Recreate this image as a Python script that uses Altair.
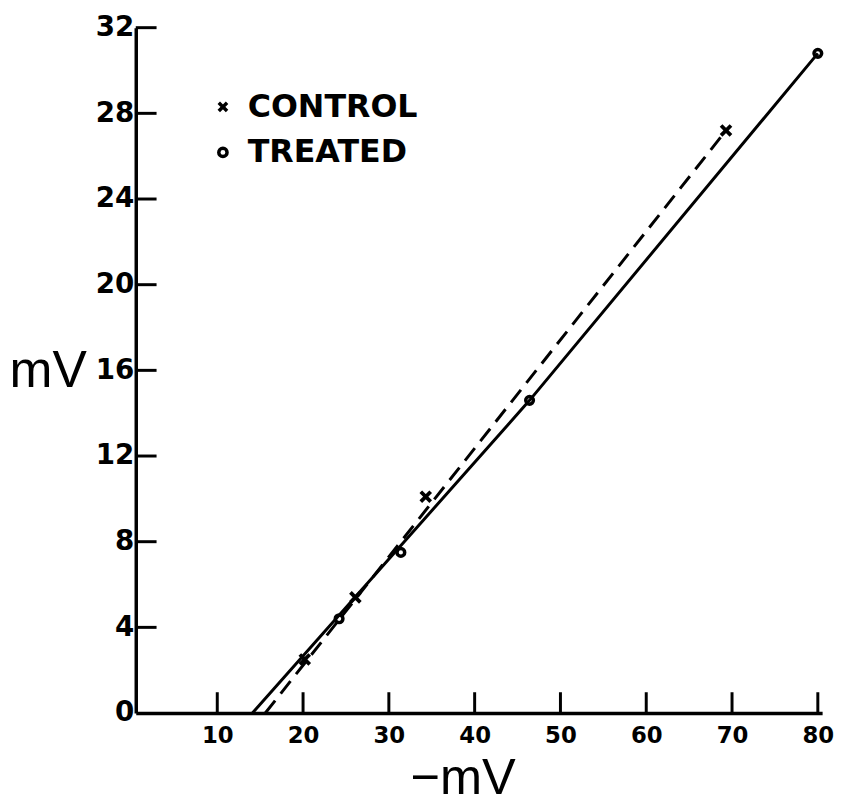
import altair as alt
import pandas as pd

# ---- data ----
control_x = [20.2, 26.1, 34.3, 69.3]
control_y = [2.5, 5.4, 10.1, 27.2]
treated_x = [24.2, 31.4, 46.4, 80.0]
treated_y = [4.4, 7.5, 14.6, 30.8]

control_line_x = [15.6, 69.3]
control_line_y = [0.0, 27.2]
treated_line_x = [14.1, 46.4, 80.0]
treated_line_y = [0.0, 14.6, 30.8]

x_ticks = [10, 20, 30, 40, 50, 60, 70, 80]
y_ticks = [0, 4, 8, 12, 16, 20, 24, 28, 32]
groups = ["CONTROL", "TREATED"]

pts = pd.DataFrame({
    "x": control_x + treated_x,
    "y": control_y + treated_y,
    "group": [groups[0]] * len(control_x) + [groups[1]] * len(treated_x),
})
cline = pd.DataFrame({"x": control_line_x, "y": control_line_y})
tline = pd.DataFrame({"x": treated_line_x, "y": treated_line_y})
xt = pd.DataFrame({"x": x_ticks})
yt = pd.DataFrame({"y": y_ticks[1:]})

W, H = 693, 692
xscale = alt.Scale(domain=[0.5, 80.5], nice=False, zero=False)
yscale = alt.Scale(domain=[0, 32], nice=False, zero=False)

TICKFONT = "DejaVu Sans"
TITLEFONT = "Liberation Sans"

x_axis = alt.Axis(
    values=x_ticks, ticks=False, grid=False, domainWidth=3.5, domainColor="black",
    labelFont=TICKFONT, labelFontSize=23, labelFontWeight="bold", labelColor="black",
    labelPadding=12, title="\u2212mV", titleFont=TITLEFONT, titleFontSize=51,
    titleFontWeight="normal", titleColor="black", titleX=330, titleY=81,
    titleBaseline="alphabetic", titleAlign="center",
)
y_axis = alt.Axis(
    values=y_ticks, ticks=False, grid=False, domainWidth=3.5, domainColor="black",
    labelFont=TICKFONT, labelFontSize=28, labelFontWeight="bold", labelColor="black",
    labelPadding=2, title="mV", titleFont=TITLEFONT, titleFontSize=52,
    titleFontWeight="normal", titleColor="black", titleAngle=0, titleX=-89,
    titleY=362, titleBaseline="alphabetic", titleAlign="center",
)

X = alt.X("x:Q", scale=xscale, axis=x_axis)
Y = alt.Y("y:Q", scale=yscale, axis=y_axis)

treated_layer = alt.Chart(tline).mark_line(color="black", strokeWidth=3).encode(x=X, y=Y)
control_layer = alt.Chart(cline).mark_line(
    color="black", strokeWidth=3, strokeDash=[16, 9]
).encode(x=X, y=Y)

xtick_layer = alt.Chart(xt).mark_rule(color="black", strokeWidth=3).encode(
    x=X, y=alt.value(H), y2=alt.value(H - 21),
)
ytick_layer = alt.Chart(yt).mark_rule(color="black", strokeWidth=3).encode(
    y=Y, x=alt.value(0), x2=alt.value(21),
)

cross_path = "M-1,-1L1,1M1,-1L-1,1"
shape_enc = alt.Shape(
    "group:N",
    scale=alt.Scale(domain=groups, range=[cross_path, "circle"]),
    legend=alt.Legend(
        title=None, orient="none", legendX=72, legendY=64,
        labelFont=TICKFONT, labelFontSize=32, labelFontWeight="bold",
        labelColor="black", labelLimit=0, symbolSize=70, symbolStrokeWidth=3.5,
        symbolStrokeColor="black", symbolFillColor="transparent",
        labelOffset=9, rowPadding=14, symbolOpacity=1,
    ),
)

control_pts = alt.Chart(pts).transform_filter(
    alt.datum.group == groups[0]
).mark_point(filled=False, color="black", strokeWidth=3.8, opacity=1, size=100).encode(
    x=X, y=Y, shape=shape_enc,
)
treated_pts = alt.Chart(pts).transform_filter(
    alt.datum.group == groups[1]
).mark_point(filled=False, color="black", strokeWidth=3.5, opacity=1, size=60).encode(
    x=X, y=Y, shape=shape_enc,
)

chart = alt.layer(
    treated_layer, control_layer, xtick_layer, ytick_layer, control_pts, treated_pts
).properties(
    width=W, height=H,
    autosize=alt.AutoSizeParams(type="none"),
    padding={"left": 129, "top": 16, "right": 12, "bottom": 90},
).configure(background="white").configure_view(stroke=None)

chart.save("out.html", embed_options={"renderer": "svg", "actions": False})
